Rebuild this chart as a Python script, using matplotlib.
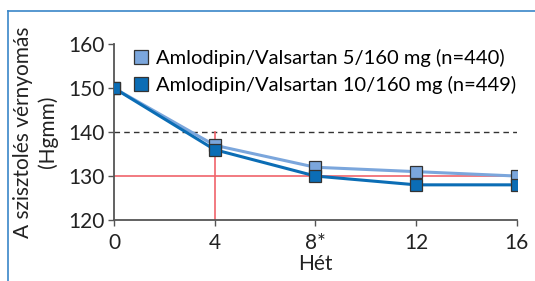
import matplotlib
matplotlib.use("Agg")
import matplotlib.pyplot as plt
from matplotlib.lines import Line2D

plt.rcParams['font.family'] = ['Lato', 'DejaVu Sans']

weeks = [0, 4, 8, 12, 16]
week_labels = ["0", "4", "8*", "12", "16"]
bp_5_160 = [150, 137, 132, 131, 130]
bp_10_160 = [150, 136, 130, 128, 128]
series_names = ["Amlodipin/Valsartan 5/160 mg (n=440)",
                "Amlodipin/Valsartan 10/160 mg (n=449)"]

light = "#7ba6dc"
dark = "#0b6db5"
red = "#f0636b"

fig = plt.figure(figsize=(5.35, 2.81), dpi=100)
ax = fig.add_axes([0.213, 0.217, 0.753, 0.626])

ax.plot([0, 16], [140, 140], color="#333333", lw=1, ls=(0, (4, 3)), zorder=1)
ax.plot([0, 16], [130, 130], color=red, lw=1.2, zorder=1)
ax.plot([4, 4], [120, 140], color=red, lw=1.2, zorder=1)

ax.plot(weeks, bp_5_160, color=light, lw=2.2, marker="s", ms=9,
        mfc=light, mec="#333333", mew=0.9, label=series_names[0], zorder=3)
ax.plot(weeks, bp_10_160, color=dark, lw=2.2, marker="s", ms=9,
        mfc=dark, mec="#333333", mew=0.9, label=series_names[1], zorder=4)

ax.set_xlim(0, 16)
ax.set_ylim(120, 160)
ax.set_xticks(weeks)
ax.set_xticklabels(week_labels)
ax.set_yticks([120, 130, 140, 150, 160])
for s in ["top", "right"]:
    ax.spines[s].set_visible(False)
for s in ["left", "bottom"]:
    ax.spines[s].set_color("#555555")
    ax.spines[s].set_linewidth(1.3)
ax.tick_params(axis="both", labelsize=15, color="#555555", length=4,
               width=1, labelcolor="#222222")
ax.tick_params(axis="y", pad=3)
ax.tick_params(axis="x", pad=5)
ax.set_xlabel("Hét", fontsize=15, color="#222222", labelpad=1)
ax.set_ylabel("A szisztolés vérnyomás\n(Hgmm)", fontsize=15,
              color="#222222", linespacing=1.3, labelpad=7)
for sp in ax.spines.values():
    sp.set_clip_on(False)

ax.legend(loc="upper left", bbox_to_anchor=(0.03, 1.02), frameon=False,
          fontsize=14.5, handlelength=0.7, handletextpad=0.4,
          borderaxespad=0, labelspacing=0.45, markerscale=1.15,
          numpoints=1)
leg = ax.get_legend()
for h in leg.legend_handles:
    h.set_linestyle("none")

fig.add_artist(Line2D([0.015, 1.0], [0.961, 0.961], color="#3a86c8", lw=1.2))
fig.add_artist(Line2D([0.015, 0.015], [0.0, 0.961], color="#3a86c8", lw=1.2))

fig.savefig("out.png", dpi=100)
